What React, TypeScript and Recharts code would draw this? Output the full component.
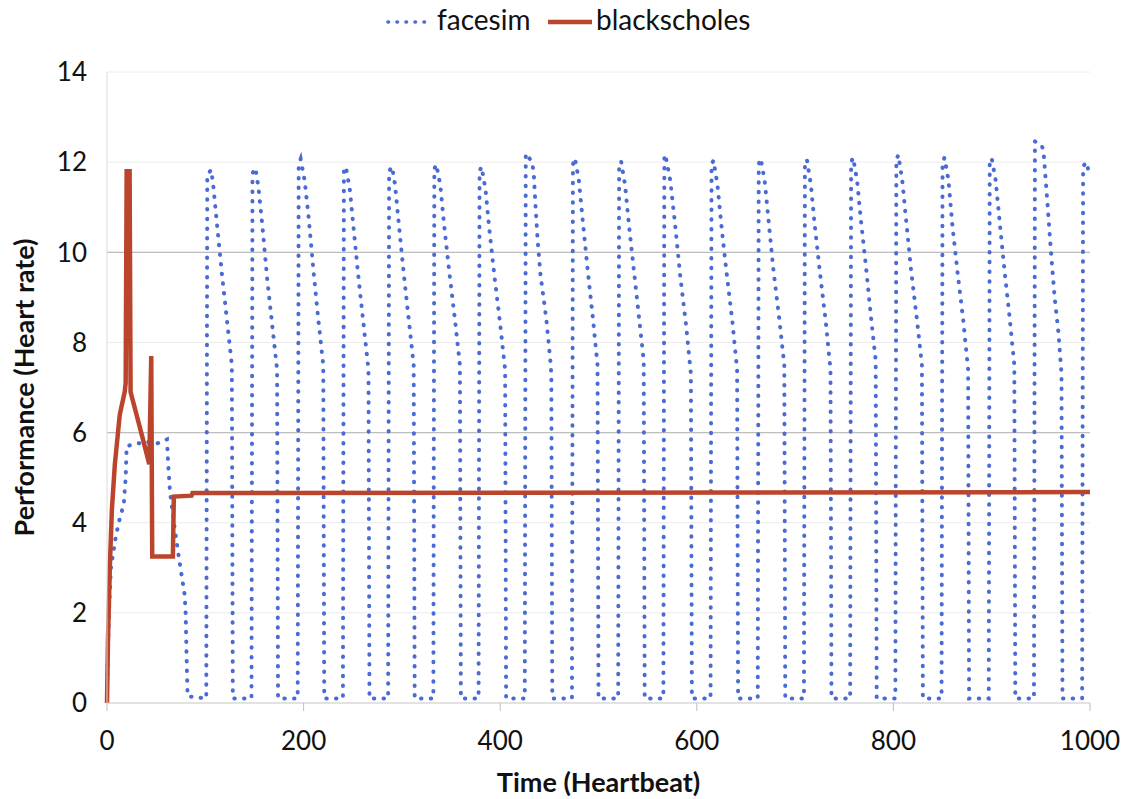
import React from "react";
import {
  LineChart,
  Line,
  XAxis,
  YAxis,
  CartesianGrid,
  ReferenceLine,
} from "recharts";

const FONT = "Lato, 'Open Sans', sans-serif";
const BLUE = "#4a6bd4";
const RED = "#bb452c";

const xTicks = [0, 200, 400, 600, 800, 1000];
const yTicks = [0, 2, 4, 6, 8, 10, 12, 14];
const strongGrid = [6, 10];

// facesim: [heartbeat, heart rate]
const facesimPoints: [number, number][] = [
  [0, 0.2], [2, 2.0], [4, 3.0], [9, 3.7], [13, 4.1], [17, 4.4], [19, 5.0], [20, 5.7],
  [30, 5.75], [40, 5.8], [50, 5.75], [61, 5.85], [62, 5.4], [64, 4.7], [69, 3.85],
  [74, 3.1], [79, 2.4], [80, 2.0], [81, 1.0], [82, 0.15],
  [101, 0.1], [102, 11.72], [106, 11.83], [108, 11.5], [112, 10.6], [117, 9.5], [122, 8.5], [127, 7.5], [128, 0.1],
  [147, 0.1], [148, 11.75], [151, 11.87], [154, 11.45], [158, 10.6], [163, 9.4], [168, 8.4], [173, 7.4], [174, 0.1],
  [194, 0.1], [195, 11.95], [197, 12.07], [201, 11.6], [205, 10.8], [210, 9.6], [215, 8.5], [220, 7.5], [221, 0.1],
  [240, 0.1], [241, 11.8], [243, 11.9], [247, 11.4], [251, 10.5], [256, 9.4], [261, 8.4], [266, 7.4], [267, 0.1],
  [286, 0.1], [287, 11.8], [290, 11.9], [293, 11.5], [297, 10.6], [302, 9.5], [307, 8.5], [312, 7.5], [313, 0.1],
  [332, 0.1], [333, 11.85], [335, 11.95], [339, 11.5], [343, 10.6], [348, 9.6], [354, 8.5], [359, 7.5], [360, 0.1],
  [378, 0.1], [379, 11.8], [381, 11.9], [385, 11.4], [389, 10.5], [394, 9.5], [400, 8.4], [405, 7.4], [406, 0.1],
  [425, 0.1], [426, 12.19], [432, 12.02], [434, 11.8], [436, 11.0], [438, 10.3], [441, 9.5], [444, 9.0], [447, 8.5], [451, 7.6], [452, 7.3], [453, 0.1],
  [473, 0.1], [474, 11.95], [476, 12.09], [480, 11.6], [484, 10.7], [489, 9.6], [494, 8.6], [499, 7.5], [500, 0.1],
  [520, 0.1], [521, 11.9], [523, 12.02], [527, 11.5], [531, 10.6], [536, 9.6], [541, 8.6], [546, 7.6], [547, 0.1],
  [566, 0.1], [567, 12.17], [569, 12.05], [573, 11.6], [578, 10.6], [583, 9.5], [589, 8.4], [594, 7.3], [595, 0.1],
  [614, 0.1], [615, 11.95], [617, 12.04], [621, 11.5], [625, 10.6], [630, 9.6], [636, 8.5], [641, 7.4], [642, 0.1],
  [662, 0.1], [663, 11.95], [665, 12.08], [669, 11.6], [673, 10.7], [678, 9.6], [684, 8.5], [689, 7.5], [690, 0.1],
  [709, 0.1], [710, 11.95], [712, 12.06], [716, 11.5], [720, 10.6], [725, 9.6], [731, 8.5], [736, 7.4], [737, 0.1],
  [756, 0.1], [757, 12.0], [759, 12.1], [763, 11.6], [767, 10.7], [772, 9.7], [777, 8.6], [782, 7.6], [783, 0.1],
  [802, 0.1], [803, 12.05], [805, 12.16], [809, 11.6], [813, 10.7], [818, 9.6], [824, 8.5], [829, 7.5], [830, 0.1],
  [849, 0.1], [850, 12.0], [852, 12.1], [856, 11.6], [860, 10.6], [865, 9.6], [871, 8.5], [876, 7.4], [877, 0.1],
  [897, 0.1], [898, 12.0], [900, 12.09], [904, 11.6], [908, 10.7], [913, 9.6], [918, 8.6], [923, 7.5], [924, 0.1],
  [943, 0.1], [944, 12.46], [951, 12.38], [953, 12.16], [956, 11.3], [960, 10.1], [964, 9.0], [968, 8.2], [971, 7.3], [972, 0.1],
  [992, 0.1], [993, 11.9], [996, 12.0], [998, 11.85], [1000, 11.8],
];

// blackscholes: [heartbeat, heart rate]
const blackscholesPoints: [number, number][] = [
  [0, 0], [1, 1.4], [3, 3.1], [5, 4.3], [8, 5.3], [13, 6.4], [18, 6.9], [19, 7.1],
  [20, 11.8], [23, 11.8], [24, 6.9], [30, 6.4], [36, 5.9], [43, 5.3],
  [45, 7.7], [46, 3.25], [67, 3.25], [68, 4.58], [86, 4.6], [87, 4.66], [1000, 4.68],
];

const facesimData = facesimPoints.map(([t, v]) => ({ t, v }));
const blackscholesData = blackscholesPoints.map(([t, v]) => ({ t, v }));

export default function App() {
  return (
    <div
      style={{
        position: "absolute",
        left: 0,
        top: 0,
        width: 1127,
        height: 799,
        background: "#fff",
        fontFamily: FONT,
      }}
    >
      <LineChart
        width={1127}
        height={799}
        margin={{ top: 72, right: 37, bottom: 0, left: 0 }}
      >
        <CartesianGrid vertical={false} stroke="#ececec" />
        {strongGrid.map((y) => (
          <ReferenceLine key={y} y={y} stroke="#bdbdbd" strokeWidth={1.2} />
        ))}
        <XAxis
          type="number"
          dataKey="t"
          domain={[0, 1000]}
          ticks={xTicks}
          height={96}
          tickSize={8}
          tickMargin={21}
          axisLine={{ stroke: "#cfcfcf" }}
          tickLine={{ stroke: "#bfbfbf" }}
          tick={{ fontSize: 26, fill: "#111", fontFamily: FONT }}
          label={{
            value: "Time (Heartbeat)",
            position: "insideBottom",
            offset: 7,
            style: { fontSize: 27, fontWeight: 700, fill: "#111", fontFamily: FONT },
          }}
        />
        <YAxis
          type="number"
          domain={[0, 14]}
          ticks={yTicks}
          width={107}
          tickSize={0}
          tickMargin={20}
          tickLine={false}
          axisLine={{ stroke: "#dcdcdc" }}
          tick={{ fontSize: 26, fill: "#111", fontFamily: FONT }}
          label={{
            value: "Performance (Heart rate)",
            angle: -90,
            position: "insideLeft",
            offset: 24,
            style: {
              fontSize: 27,
              fontWeight: 700,
              fill: "#111",
              fontFamily: FONT,
              textAnchor: "middle",
            },
          }}
        />
        <Line
          data={facesimData}
          dataKey="v"
          type="linear"
          stroke={BLUE}
          strokeWidth={4}
          strokeDasharray="0.5 9.2"
          strokeLinecap="round"
          dot={false}
          isAnimationActive={false}
        />
        <Line
          data={blackscholesData}
          dataKey="v"
          type="linear"
          stroke={RED}
          strokeWidth={4.5}
          dot={false}
          isAnimationActive={false}
        />
      </LineChart>
      <svg
        width={1127}
        height={50}
        style={{ position: "absolute", left: 0, top: 0 }}
      >
        <line
          x1={388}
          y1={22}
          x2={430}
          y2={22}
          stroke={BLUE}
          strokeWidth={3.6}
          strokeDasharray="0.5 8.5"
          strokeLinecap="round"
        />
        <text x={437} y={30} fontSize={28} fill="#111" fontFamily={FONT}>
          facesim
        </text>
        <line x1={548} y1={22} x2={592} y2={22} stroke={RED} strokeWidth={4.5} />
        <text x={596} y={30} fontSize={28} fill="#111" fontFamily={FONT}>
          blackscholes
        </text>
      </svg>
    </div>
  );
}
